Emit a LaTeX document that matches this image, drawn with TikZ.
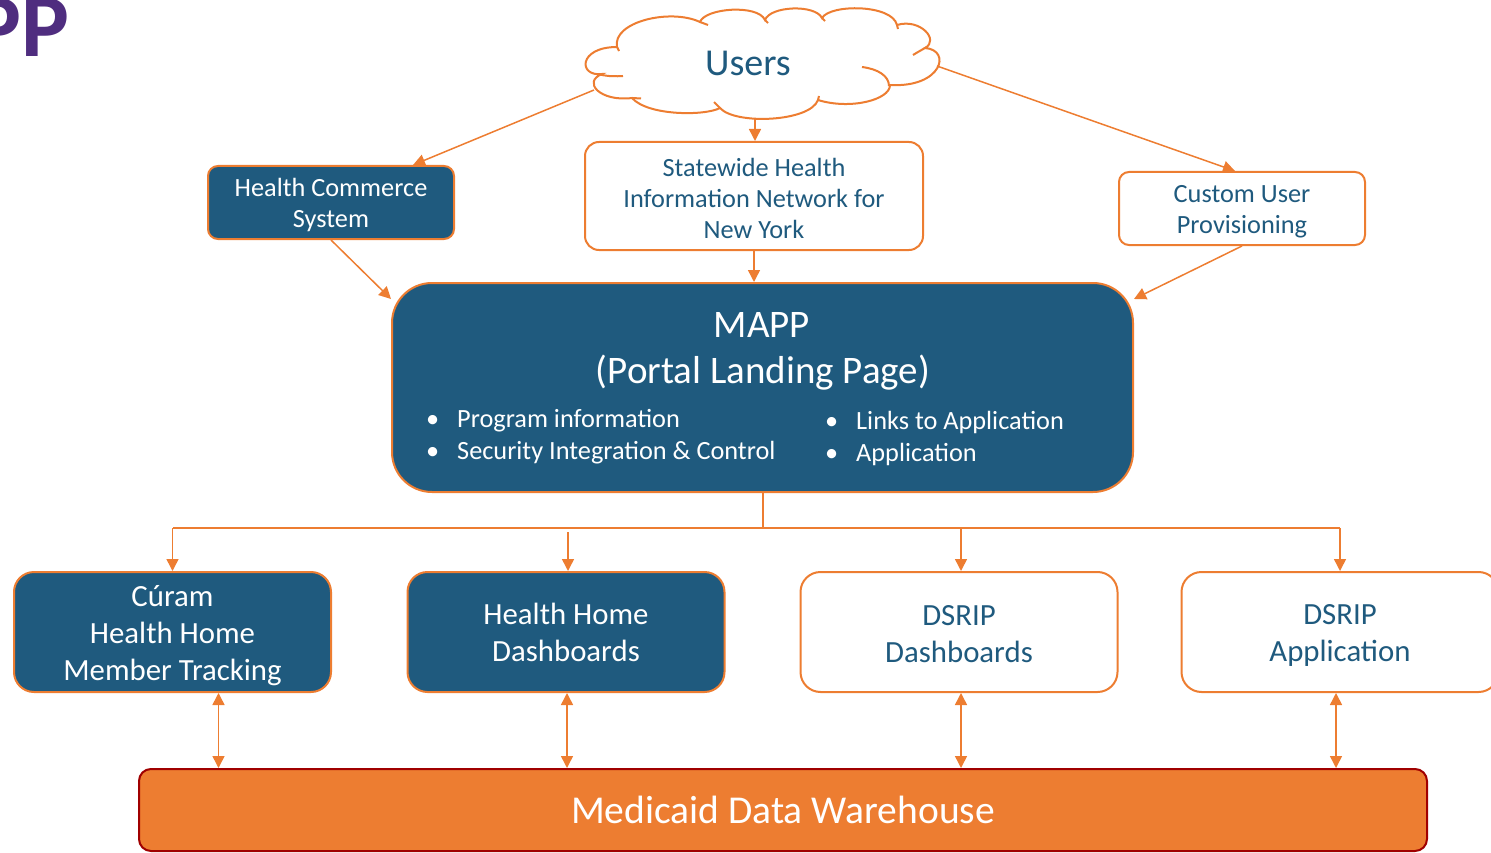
\documentclass[tikz,border=0pt]{standalone}
\usepackage{fontspec}
\setmainfont{Carlito}
\usetikzlibrary{arrows.meta,calc}
\definecolor{mblue}{HTML}{1F5A7E}
\definecolor{morange}{HTML}{ED7D31}
\definecolor{mred}{HTML}{A00000}
\definecolor{mpurple}{HTML}{4F2D7F}
\newcommand\tpad[1]{\rule{0pt}{#1}}
\begin{document}
\begin{tikzpicture}[x=1pt,y=-1pt,
  bluebox/.style={draw=morange,fill=mblue,text=white,line width=2pt,rounded corners=10pt,align=center,inner sep=0pt},
  whitebox/.style={draw=morange,fill=white,text=mblue,line width=2pt,rounded corners=10pt,align=center,inner sep=0pt},
  smalltxt/.style={font=\fontsize{26.3}{31}\selectfont},
  bigtxt/.style={font=\fontsize{30.8}{37}\selectfont},
  bottombox/.style={minimum width=317pt,minimum height=120pt,rounded corners=20pt,bigtxt},
  bullettxt/.style={anchor=base west,inner sep=0pt,text=white,font=\fontsize{26.3}{31}\selectfont},
  cloudline/.style={draw=morange,line width=2pt},
  conn/.style={draw=morange,line width=1.5pt,-{Triangle[length=12pt,width=12pt]}},
  dconn/.style={draw=morange,line width=1.5pt,{Triangle[length=12pt,width=12pt]}-{Triangle[length=12pt,width=12pt]}},
]
\useasboundingbox (0,0) rectangle (1491,853);
\clip (0,0) rectangle (1491,853);

\node[anchor=base east,text=mpurple,inner sep=0pt,font=\fontsize{90}{90}\selectfont\bfseries] (title) at (70,57) {PP};

% cloud outline
\path[cloudline,fill=white] (602,74)
  .. controls (578,77) and (578,47) .. (617,47)
  .. controls (612,22) and (670,8) .. (700,22)
  .. controls (705,8) and (758,4) .. (765,20)
  .. controls (770,6) and (815,4) .. (822,18)
  .. controls (830,4) and (892,4) .. (897,25)
  .. controls (920,18) and (940,40) .. (925,48)
  .. controls (952,50) and (942,88) .. (890,85)
  .. controls (890,100) and (850,110) .. (818,100)
  .. controls (810,122) and (735,125) .. (720,108)
  .. controls (705,116) and (648,116) .. (632,98)
  .. controls (600,102) and (582,82) .. cycle;
% inner arcs of the cloud
\draw[cloudline] (600,74.5) .. controls (608,76.5) and (616,76.5) .. (623,76);
\draw[cloudline] (617,47) -- (619,51);
\draw[cloudline] (700,22) -- (708,25);
\draw[cloudline] (765,20) -- (768,23);
\draw[cloudline] (822,18) -- (825,21);
\draw[cloudline] (897,25) -- (898,29);
\draw[cloudline] (913,55) .. controls (918,52) and (923,49) .. (927,47);
\draw[cloudline] (862,67) .. controls (878,69) and (889,76) .. (889,86);
\draw[cloudline] (818,100) -- (819,96);
\draw[cloudline] (720,108) -- (714,102);
\draw[cloudline] (632,98) -- (641,98.5);
\coordinate (cL) at (594,90);
\coordinate (cB) at (755,119);
\coordinate (cR) at (937,66);
\node[inner sep=0pt,text=mblue,font=\fontsize{38}{44}\selectfont] (users) at (748,63) {Users};

\node[bluebox,smalltxt,minimum width=246pt,minimum height=73pt] (hcs) at (331,202.5) {\tpad{24pt}Health Commerce\\System};
\node[whitebox,smalltxt,minimum width=338pt,minimum height=108pt,rounded corners=14pt] (shin) at (754,196) {\tpad{23pt}Statewide Health\\Information Network for\\New York};
\node[whitebox,smalltxt,minimum width=246pt,minimum height=73pt] (cup) at (1242,208.5) {\tpad{24pt}Custom User\\Provisioning};

\node[bluebox,minimum width=741pt,minimum height=209pt,rounded corners=40pt] (mapp) at (762.5,387.5) {};
\node[anchor=base,inner sep=0pt,text=white,font=\fontsize{39}{44}\selectfont] (mt1) at (762,337) {MAPP};
\node[anchor=base,inner sep=0pt,text=white,font=\fontsize{39}{44}\selectfont] (mt2) at (763,383) {(Portal Landing Page)};
\node[bullettxt] (b1) at (426,427) {\makebox[31pt][l]{•}Program information};
\node[bullettxt] (b2) at (426,459) {\makebox[31pt][l]{•}Security Integration \& Control};
\node[bullettxt] (b3) at (825,429) {\makebox[31pt][l]{•}Links to Application};
\node[bullettxt] (b4) at (825,461) {\makebox[31pt][l]{•}Application};

\node[bluebox,bottombox] (curam) at (172.5,632) {\tpad{29pt}Cúram\\Health Home\\Member Tracking};
\node[bluebox,bottombox] (hhd) at (566,632) {Health Home\\Dashboards};
\node[whitebox,bottombox] (dsd) at (959,632) {\tpad{25pt}DSRIP\\Dashboards};
\node[whitebox,bottombox] (dsa) at (1340,632) {\tpad{27pt}DSRIP\\Application};

\node[draw=mred,fill=morange,text=white,line width=2pt,rounded corners=12pt,minimum width=1288pt,minimum height=82pt,inner sep=0pt,font=\fontsize{39.5}{46}\selectfont] (mdw) at (783,810) {Medicaid Data Warehouse};

% top connectors
\draw[conn] (cL) -- ([xshift=82pt]hcs.north);
\draw[conn] (cB) -- (cB |- shin.north);
\draw[conn] (cR) -- ([xshift=-7pt]cup.north);
\draw[conn] (hcs.south) -- ([yshift=-17pt]mapp.north west);
\draw[conn] (shin.south) -- (shin.south |- mapp.north);
\draw[conn] (cup.south) -- ([yshift=-17pt]mapp.north east);

% bus
\coordinate (bus) at ([yshift=-35pt]mapp.south);
\draw[morange,line width=2pt] (mapp.south) -- (bus);
\draw[morange,line width=1.5pt] (bus) -- (curam.north |- bus);
\draw[morange,line width=2.5pt] (bus) -- (dsa.north |- bus);
\draw[conn] (curam.north |- bus) -- (curam.north);
\draw[conn] ($(hhd.north |- bus)+(2,4)$) -- ($(hhd.north)+(2,0)$);
\draw[conn] ($(dsd.north |- bus)+(2,0)$) -- ($(dsd.north)+(2,0)$);
\draw[conn] (dsa.north |- bus) -- (dsa.north);

% double arrows
\draw[dconn] ($(curam.south)+(46,0)$) -- ($(curam.south |- mdw.north)+(46,0)$);
\draw[dconn] ($(hhd.south)+(1,0)$) -- ($(hhd.south |- mdw.north)+(1,0)$);
\draw[dconn] ($(dsd.south)+(2,0)$) -- ($(dsd.south |- mdw.north)+(2,0)$);
\draw[dconn] ($(dsa.south)+(-4,0)$) -- ($(dsa.south |- mdw.north)+(-4,0)$);
\end{tikzpicture}
\end{document}
